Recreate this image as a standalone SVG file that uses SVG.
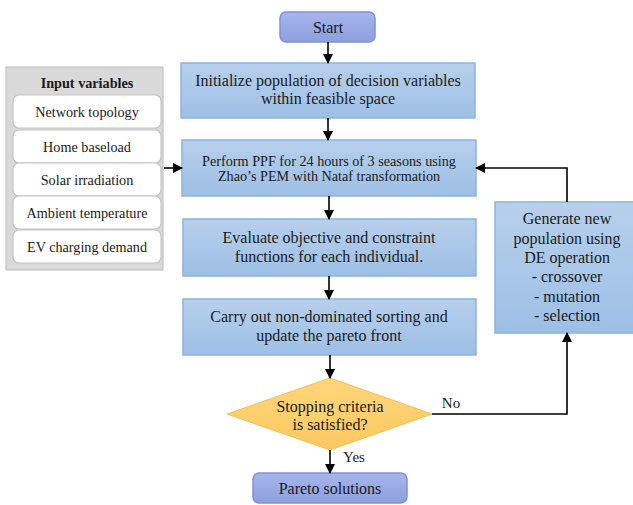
<svg xmlns="http://www.w3.org/2000/svg" width="633" height="505" viewBox="0 0 633 505">
<defs>
<linearGradient id="gBlue" x1="0" y1="0" x2="0" y2="1"><stop offset="0" stop-color="#b7d0ec"/><stop offset="1" stop-color="#9dbfe5"/></linearGradient>
<linearGradient id="gPurple" x1="0" y1="0" x2="0" y2="1"><stop offset="0" stop-color="#a7b5ea"/><stop offset="1" stop-color="#8c9fdf"/></linearGradient>
<linearGradient id="gGold" x1="0" y1="0" x2="0" y2="1"><stop offset="0" stop-color="#ffd67a"/><stop offset="1" stop-color="#fcc862"/></linearGradient>
<marker id="arr" viewBox="0 0 10 10" refX="9" refY="5" markerWidth="10" markerHeight="10" markerUnits="userSpaceOnUse" orient="auto"><path d="M0,0 L10,5 L0,10 z" fill="#000"/></marker>
<style>
.blue{fill:url(#gBlue);stroke:#8fb3de;stroke-width:1.5}
.purple{fill:url(#gPurple);stroke:#7f93d8;stroke-width:1.5}
text{font-family:'Liberation Serif','Times New Roman',serif;font-size:16px;fill:#1a1a1a;text-anchor:middle}
.c{stroke:#000;stroke-width:1.6;fill:none;marker-end:url(#arr)}
.sub{fill:#fff;stroke:#c4c4c4;stroke-width:1.2}
.s{font-size:14.2px}
.lbl{font-size:15px}
</style>
</defs>
<g id="input-panel">
<rect x="6" y="67" width="157" height="203" fill="#d9d9d9" stroke="#c4c4c4" stroke-width="1.2"/>
<text x="87" y="88" font-weight="bold" class="s">Input variables</text>
<rect class="sub" x="13" y="95" width="148" height="33" rx="6"/>
<text x="87" y="117" class="s">Network topology</text>
<rect class="sub" x="13" y="130" width="148" height="33" rx="6"/>
<text x="87" y="152" class="s">Home baseload</text>
<rect class="sub" x="13" y="163" width="148" height="33" rx="6"/>
<text x="87" y="185" class="s">Solar irradiation</text>
<rect class="sub" x="13" y="196" width="148" height="33" rx="6"/>
<text x="87" y="218" class="s">Ambient temperature</text>
<rect class="sub" x="13" y="230" width="148" height="33" rx="6"/>
<text x="87" y="252" class="s">EV charging demand</text>
</g>
<g id="start">
<rect class="purple" x="280" y="12" width="95" height="30" rx="6"/>
<text x="328" y="33">Start</text>
</g>
<g id="init">
<rect class="blue" x="181" y="63" width="294" height="55"/>
<text x="328" y="86">Initialize population of decision variables</text>
<text x="328" y="104">within feasible space</text>
</g>
<g id="ppf">
<rect class="blue" x="182" y="140" width="294" height="56"/>
<text x="329" y="166" class="s">Perform PPF for 24 hours of 3 seasons using</text>
<text x="329" y="181" class="s">Zhao’s PEM with Nataf transformation</text>
</g>
<g id="evaluate">
<rect class="blue" x="183" y="219" width="293" height="57"/>
<text x="329" y="243">Evaluate objective and constraint</text>
<text x="329" y="262">functions for each individual.</text>
</g>
<g id="sorting">
<rect class="blue" x="183" y="299" width="293" height="56"/>
<text x="329" y="322">Carry out non-dominated sorting and</text>
<text x="329" y="341">update the pareto front</text>
</g>
<g id="decision">
<polygon points="330,378 432,414 330,450 227,414" fill="url(#gGold)" stroke="#f2c052" stroke-width="1"/>
<text x="330" y="412">Stopping criteria</text>
<text x="330" y="430">is satisfied?</text>
</g>
<g id="pareto">
<rect class="purple" x="253" y="473" width="154" height="30" rx="6"/>
<text x="330" y="494">Pareto solutions</text>
</g>
<g id="generate">
<rect class="blue" x="495" y="202" width="145" height="131"/>
<text x="567" y="224">Generate new</text>
<text x="567" y="244">population using</text>
<text x="567" y="263">DE operation</text>
<text x="567" y="282">- crossover</text>
<text x="567" y="302">- mutation</text>
<text x="567" y="321">- selection</text>
</g>
<g id="connectors">
<path class="c" d="M328,42 V63"/>
<path class="c" d="M328,118 V140"/>
<path class="c" d="M329,196 V219"/>
<path class="c" d="M329,276 V299"/>
<path class="c" d="M330,355 V378"/>
<path class="c" d="M330,450 V473"/>
<path class="c" d="M164,168 H182"/>
<path class="c" d="M432,414 H567 V333"/>
<path class="c" d="M567,202 V168 H476"/>
<text x="451" y="408" class="lbl">No</text>
<text x="354" y="462" class="lbl">Yes</text>
</g>
</svg>
